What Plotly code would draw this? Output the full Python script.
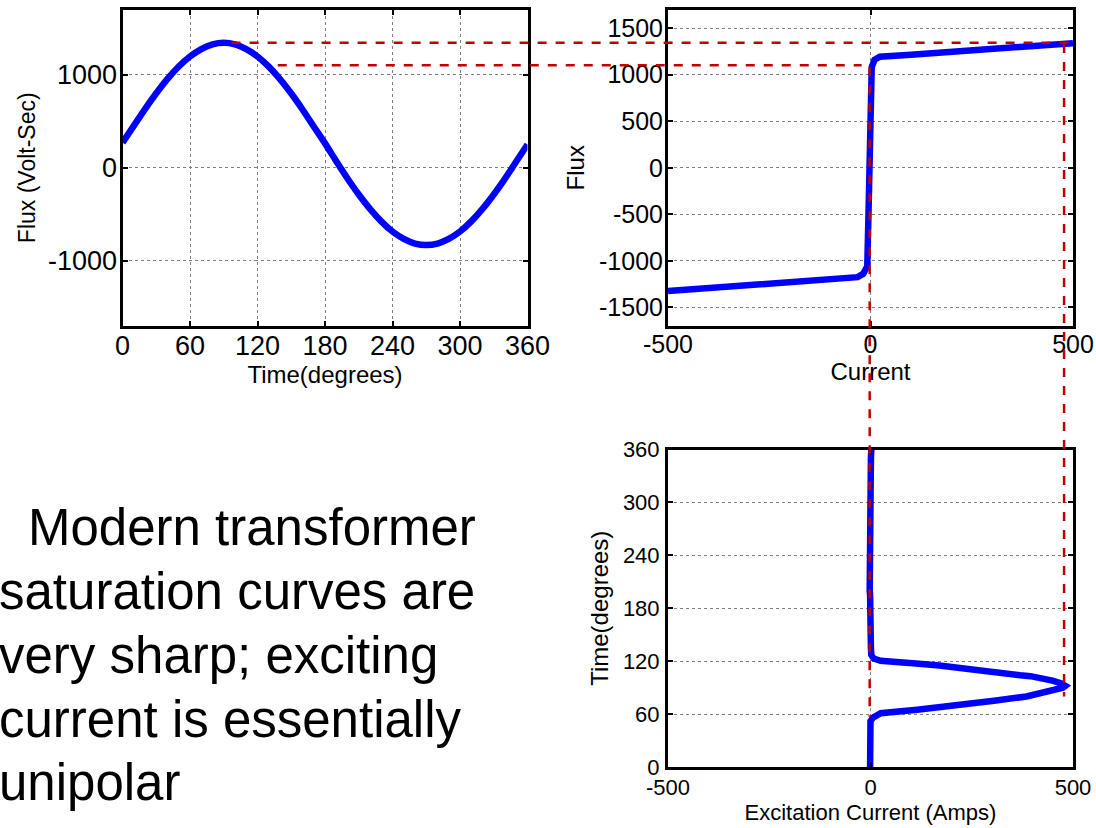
import plotly.graph_objects as go

# ---------------- data ----------------
time_deg = [0, 10, 20, 30, 40, 50, 60, 70, 80, 90, 100, 110, 120, 130, 140, 150, 160, 170, 180,
            190, 200, 210, 220, 230, 240, 250, 260, 270, 280, 290, 300, 310, 320, 330, 340, 350, 360]
flux_vs_time = [270, 450, 630, 800, 955, 1088, 1195, 1275, 1326, 1343, 1326, 1275, 1195, 1086, 952,
                797, 626, 443, 262, 70, -115, -287, -442, -576, -685, -765, -814, -830, -814, -765,
                -685, -576, -442, -287, -116, 67, 250]

sat_current = [-500, -300, -100, -32, -18, -8, -5, -2, 1, 3, 10, 23, 100, 300, 500]
sat_flux = [-1325, -1268, -1210, -1175, -1140, -1060, -500, 0, 500, 1080, 1160, 1192, 1215, 1275, 1338]

exc_time = [0, 20, 45, 52, 56, 59, 61, 65, 70, 75, 80, 85, 88, 90, 92, 95, 98, 101, 103, 104,
            108, 112, 115, 117, 119, 120.5, 123, 127, 135, 160, 190, 195, 200, 250, 300, 345, 350, 360]
exc_current = [-1, -1, -1, 0, 6, 14, 25, 115, 220, 305, 385, 435, 460, 475, 481, 470, 449, 420,
               395, 370, 300, 245, 170, 120, 60, 25, 8, 2, 1, 1, 3, -1, -2, -2, -2, -3, 1, 2]

# tick values / labels
time_ticks = [0, 60, 120, 180, 240, 300, 360]
flux_ticks_left = [-1000, 0, 1000]
flux_ticks_right = [-1500, -1000, -500, 0, 500, 1000, 1500]
current_ticks = [-500, 0, 500]

# dashed guide lines (data values)
guide_h_flux = [1343, 1100]          # horizontal guides, flux level
guide_h_time_start = [97, 138]       # start (degrees) on the left plot
guide_h_current_end = [500, -22]     # end (current) on the flux-current plot
guide_v_current = [478, -2]          # vertical guides, current level
guide_v_flux_start = [1330, 1080]    # start flux on flux-current plot
guide_v_time_end = [80, 57]          # end time on bottom plot

bullet_lines = ["Modern transformer", "saturation curves are", "very sharp; exciting",
                "current is essentially", "unipolar"]

# ---------------- layout geometry ----------------
W, H = 1096, 828
dom_xl = [122.5 / W, 527.5 / W]
dom_xr = [668 / W, 1073 / W]
dom_yt = [1 - 326 / H, 1 - 9.5 / H]
dom_yb = [1 - 767 / H, 1 - 449.5 / H]
rng_time = [0, 360]
rng_flux = [-1700, 1700]
rng_cur = [-500, 500]


def to_paper(v, dom, rng):
    return dom[0] + (v - rng[0]) / (rng[1] - rng[0]) * (dom[1] - dom[0])


def lbl(vals):
    return [str(v) for v in vals]


FONT = "Liberation Sans, Arial, sans-serif"
BLUE = "#0000ff"
RED = "#c00000"

fig = go.Figure()
fig.add_trace(go.Scatter(x=time_deg, y=flux_vs_time, mode="lines",
                         line=dict(color=BLUE, width=6.5, shape="spline"),
                         xaxis="x", yaxis="y", showlegend=False))
fig.add_trace(go.Scatter(x=sat_current, y=sat_flux, mode="lines", line=dict(color=BLUE, width=6.5),
                         xaxis="x2", yaxis="y2", showlegend=False))
fig.add_trace(go.Scatter(x=exc_current, y=exc_time, mode="lines", line=dict(color=BLUE, width=6.5),
                         xaxis="x3", yaxis="y3", showlegend=False))

common = dict(showline=True, linecolor="black", linewidth=3, mirror="ticks", ticks="inside",
              ticklen=5, tickwidth=1.5, tickcolor="black", showgrid=True, gridcolor="#7f7f7f",
              griddash="dot", gridwidth=1, zeroline=False, color="black", automargin=False)

fig.update_layout(
    width=W, height=H, margin=dict(l=0, r=0, t=0, b=0, autoexpand=False),
    paper_bgcolor="white", plot_bgcolor="white",
    font=dict(family=FONT, color="black"),
    xaxis=dict(domain=dom_xl, range=rng_time, anchor="y", tickvals=time_ticks, ticktext=lbl(time_ticks),
               tickfont=dict(size=27), ticklabelstandoff=-6,
               title=dict(text="Time(degrees)", font=dict(size=24), standoff=2), **common),
    yaxis=dict(domain=dom_yt, range=rng_flux, anchor="x", tickvals=flux_ticks_left,
               ticktext=lbl(flux_ticks_left),
               tickfont=dict(size=27), ticklabelstandoff=-3,
               title=dict(text="Flux (Volt-Sec)", font=dict(size=23), standoff=6), **common),
    xaxis2=dict(domain=dom_xr, range=rng_cur, anchor="y2", tickvals=current_ticks,
                ticktext=lbl(current_ticks),
                tickfont=dict(size=25), ticklabelstandoff=-6,
                title=dict(text="Current", font=dict(size=24), standoff=3), **common),
    yaxis2=dict(domain=dom_yt, range=rng_flux, anchor="x2", tickvals=flux_ticks_right,
                ticktext=lbl(flux_ticks_right),
                tickfont=dict(size=25), ticklabelstandoff=-3,
                title=dict(text="Flux", font=dict(size=24), standoff=8), **common),
    xaxis3=dict(domain=dom_xr, range=rng_cur, anchor="y3", tickvals=current_ticks,
                ticktext=lbl(current_ticks),
                tickfont=dict(size=22), ticklabelstandoff=-1,
                title=dict(text="Excitation Current (Amps)", font=dict(size=22), standoff=5), **common),
    yaxis3=dict(domain=dom_yb, range=rng_time, anchor="x3", tickvals=time_ticks, ticktext=lbl(time_ticks),
                tickfont=dict(size=22), ticklabelstandoff=1,
                title=dict(text="Time(degrees)", font=dict(size=24), standoff=8), **common),
)

shapes = []
for f, t0, c1 in zip(guide_h_flux, guide_h_time_start, guide_h_current_end):
    shapes.append(dict(type="line", xref="paper", yref="y",
                       x0=to_paper(t0, dom_xl, rng_time), x1=to_paper(c1, dom_xr, rng_cur),
                       y0=f, y1=f, line=dict(color=RED, width=2.5, dash="dash"), layer="above"))
for c, f0, t1 in zip(guide_v_current, guide_v_flux_start, guide_v_time_end):
    shapes.append(dict(type="line", xref="x2", yref="paper", x0=c, x1=c,
                       y0=to_paper(f0, dom_yt, rng_flux), y1=to_paper(t1, dom_yb, rng_time),
                       line=dict(color=RED, width=2.5, dash="dash"), layer="above"))
fig.update_layout(shapes=shapes)

baselines = [543, 607, 671, 735, 798]
xstarts = [26, -3, -3, -3, -3]
ann = []
for txt, b, xs in zip(bullet_lines, baselines, xstarts):
    ann.append(dict(text=txt, xref="paper", yref="paper", x=0, y=1 - (b - 16) / H,
                    xanchor="left", yanchor="middle", xshift=xs, showarrow=False,
                    font=dict(size=51, family=FONT, color="black"), align="left"))
fig.update_layout(annotations=ann)

fig.write_html("out.html")
